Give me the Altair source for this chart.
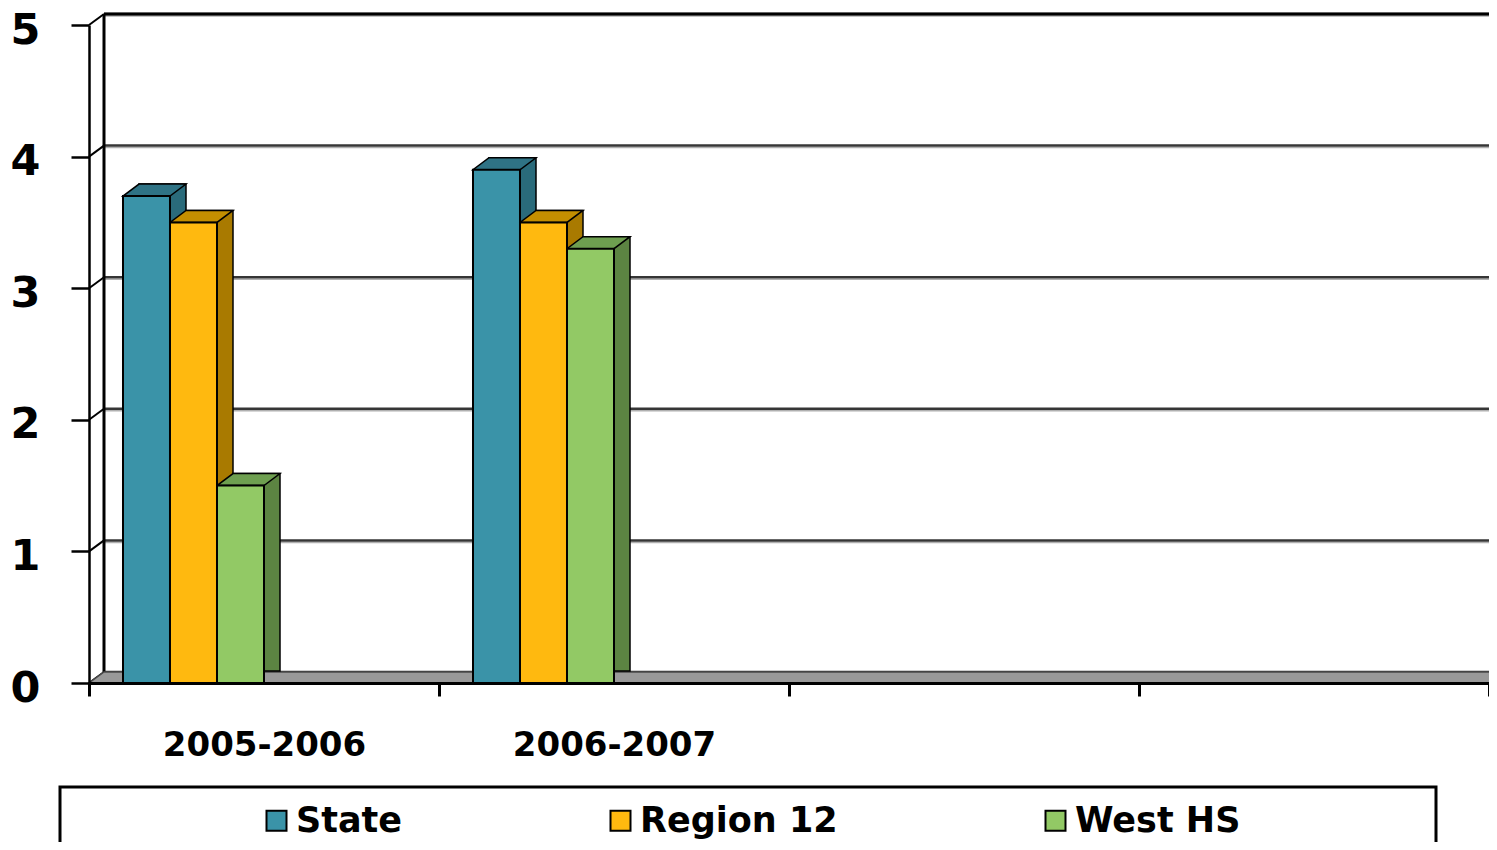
import altair as alt
import pandas as pd

# ---- data ----
categories = ["2005-2006", "2006-2007", "", " "]
series = ["State", "Region 12", "West HS"]
state_values = [3.7, 3.9]
region_values = [3.5, 3.5]
west_values = [1.5, 3.3]
y_ticks = [0, 1, 2, 3, 4, 5]

# ---- styles ----
front_colors = ["#3A93A8", "#FFB90F", "#92C965"]
side_colors = ["#2A6B7B", "#A97A00", "#5C8442"]
top_colors = ["#2F7385", "#C48F00", "#6E9F50"]
FONT = "DejaVu Sans"

rows = []
for i, cat in enumerate(categories[:2]):
    for s, vals in zip(series, [state_values, region_values, west_values]):
        rows.append({"category": cat, "series": s, "value": vals[i]})
df = pd.DataFrame(rows)
ticks_df = pd.DataFrame({"v": y_ticks})
top_df = pd.DataFrame({"v": [max(y_ticks)], "v0": [min(y_ticks)]})
floor_df = pd.DataFrame({"v": [min(y_ticks)]})

W, H = 1400, 658
DX, DY = 16, -12      # bar depth
WX, WY = 15, -11      # wall depth

yscale = alt.Scale(domain=[0, 5], nice=False, zero=True)
xscale = alt.Scale(domain=categories, paddingInner=0, paddingOuter=0)
slots = series + ["_a", "_b", "_c"]
xoff_scale = alt.Scale(type="band", domain=slots, paddingInner=0, paddingOuter=0.7234, align=0.5)
# same slots shifted right by the bar depth (for the side faces)
xoff_scale_side = alt.Scale(type="band", domain=slots, paddingInner=0, paddingOuter=0.7234,
                            align=(34 + DX) / 68)

x_axis = alt.Axis(
    labelFont=FONT, labelFontWeight="bold", labelFontSize=34, labelColor="black",
    labelAngle=0, labelPadding=32, labelLimit=400, tickBand="extent", tickSize=13, tickWidth=3,
    tickColor="black", domainColor="black", domainWidth=3, zindex=1, title=None)
y_axis = alt.Axis(
    values=y_ticks, labelFont=FONT, labelFontWeight="bold", labelFontSize=43,
    labelColor="black", labelPadding=31, labelOffset=5, tickSize=18, tickWidth=2.5,
    tickColor="black", domainColor="black", domainWidth=2.5, grid=False, zindex=1, title=None)

yv = alt.Y("v:Q", scale=yscale, axis=y_axis, title=None)

grid_shadow = alt.Chart(ticks_df).mark_rule(yOffset=WY + 2, color="#b0b0b0", strokeWidth=1.5).encode(
    y=yv, x=alt.value(WX), x2=alt.value(W + 60))
grid = alt.Chart(ticks_df).mark_rule(yOffset=WY, color="#363636", strokeWidth=2.5).encode(
    y=yv, x=alt.value(WX), x2=alt.value(W + 60))
top_line = alt.Chart(top_df).mark_rule(yOffset=WY, color="black", strokeWidth=3).encode(
    y=yv, x=alt.value(WX), x2=alt.value(W + 60))
wall_edge = alt.Chart(top_df).mark_rule(yOffset=WY, y2Offset=WY, color="black", strokeWidth=3).encode(
    x=alt.value(WX), y=yv, y2=alt.Y2("v0"))
side_diag = alt.Chart(ticks_df).mark_rule(y2Offset=WY, color="black", strokeWidth=2).encode(
    x=alt.value(0), x2=alt.value(WX), y=yv, y2=alt.Y2("v"))

R = W / 2
floor_path = f"M-1,0L1,0L{1 + WX / R:.5f},{WY / R:.5f}L{-1 + WX / R:.5f},{WY / R:.5f}Z"
floor = alt.Chart(floor_df).mark_point(
    shape=floor_path, size=(2 * R) ** 2, filled=True, fill="#999999",
    stroke="#4a4a4a", strokeWidth=1.5, opacity=1,
).encode(x=alt.value(R), y=yv)

BW = 47.0
r = 40.0
top_path = (f"M{-BW / 2 / r:.5f},0L{BW / 2 / r:.5f},0L{(BW / 2 + DX) / r:.5f},{DY / r:.5f}"
            f"L{(-BW / 2 + DX) / r:.5f},{DY / r:.5f}Z")

base = alt.Chart(df)
x_enc = alt.X("category:N", scale=xscale, axis=x_axis, title=None)
xoff = alt.XOffset("series:N", scale=xoff_scale)
y_enc = alt.Y("value:Q", scale=yscale, axis=y_axis, title=None)

side = base.mark_bar(yOffset=DY, y2Offset=DY, stroke="black", strokeWidth=1.5).encode(
    x=x_enc, xOffset=alt.XOffset("series:N", scale=xoff_scale_side), y=y_enc,
    fill=alt.Fill("series:N", scale=alt.Scale(domain=series, range=side_colors), legend=None),
)
top = base.mark_point(shape=top_path, size=(2 * r) ** 2, filled=True, opacity=1,
                      stroke="black", strokeWidth=1.5).encode(
    x=x_enc, xOffset=xoff, y=y_enc,
    color=alt.Color("series:N", scale=alt.Scale(domain=series, range=top_colors), legend=None),
)
front = base.mark_bar(stroke="black", strokeWidth=2).encode(
    x=x_enc, xOffset=xoff, y=y_enc,
    fill=alt.Fill("series:N", scale=alt.Scale(domain=series, range=front_colors), title=None,
                  legend=alt.Legend(orient="none", legendX=170, legendY=778, direction="horizontal",
                                    labelFont=FONT, labelFontWeight="bold", labelFontSize=35,
                                    labelColor="black", labelOffset=2, labelLimit=600,
                                    symbolType="square", symbolSize=400, symbolStrokeColor="black",
                                    symbolStrokeWidth=2, symbolOpacity=1, columnPadding=200)),
)

legend_box = alt.Chart(floor_df).mark_rect(fill="transparent", stroke="black", strokeWidth=3).encode(
    x=alt.value(-29), x2=alt.value(1347), y=alt.value(762), y2=alt.value(900),
)

chart = alt.layer(
    grid_shadow, grid, top_line, wall_edge, side_diag, floor, side, top, front, legend_box
).resolve_scale(fill="independent", color="independent", xOffset="independent").properties(
    width=W, height=H,
    autosize=alt.AutoSizeParams(type="none"),
    padding={"left": 81, "top": 17, "right": 0, "bottom": 159},
    background="white",
).configure_view(stroke=None)

chart.save("out.html", embed_options={"renderer": "svg", "actions": False})
